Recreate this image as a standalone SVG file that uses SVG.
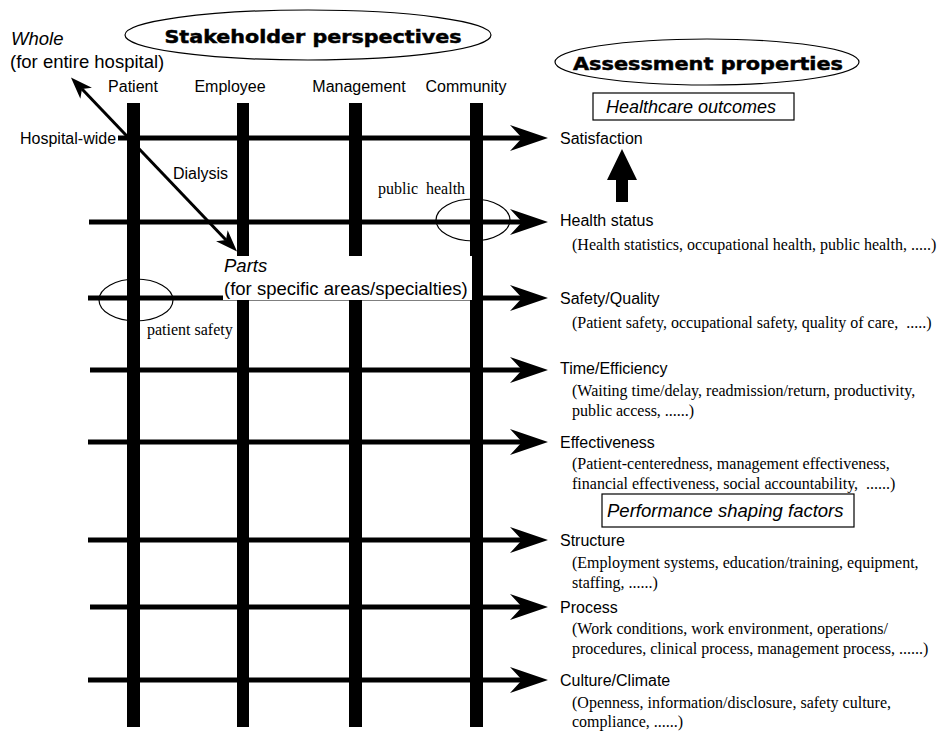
<svg xmlns="http://www.w3.org/2000/svg" width="946" height="731" viewBox="0 0 946 731">
<style>
.lab{font-family:"Liberation Sans",Arial,sans-serif;font-size:16px;fill:#000}
.it{font-family:"Liberation Sans",Arial,sans-serif;font-size:18.5px;font-style:italic;fill:#000}
.ser{font-family:"Liberation Serif","Times New Roman",serif;font-size:16px;fill:#000}
.ttl{font-family:"DejaVu Sans","Liberation Sans",sans-serif;font-size:18.5px;font-weight:bold;fill:#000;stroke:#000;stroke-width:0.5}
.bar{fill:#000}
.row{stroke:#000;stroke-width:5;fill:none}
.oval{fill:none;stroke:#000;stroke-width:1.2}
.box{fill:#fff;stroke:#000;stroke-width:1.2}
</style>
<defs>
<marker id="ah" markerUnits="userSpaceOnUse" markerWidth="38" markerHeight="26" viewBox="0 0 38 26" refX="12" refY="13" orient="auto">
<path d="M0,0 L38,13 L0,26 L12,13 Z" fill="#000"/>
</marker>
<marker id="sh" markerUnits="userSpaceOnUse" markerWidth="22" markerHeight="16" viewBox="0 0 22 16" refX="6" refY="8" orient="auto-start-reverse">
<path d="M0,0 L22,8 L0,16 L6,8 Z" fill="#000"/>
</marker>
</defs>
<rect width="946" height="731" fill="#fff"/>

<g id="title-stakeholder">
<ellipse class="oval" cx="308" cy="35" rx="183" ry="25"/>
<text class="ttl" x="313" y="43" text-anchor="middle" textLength="297" lengthAdjust="spacingAndGlyphs">Stakeholder perspectives</text>
</g>
<g id="title-assessment">
<ellipse class="oval" cx="707" cy="62" rx="152" ry="23"/>
<text class="ttl" x="708" y="70" text-anchor="middle" textLength="270" lengthAdjust="spacingAndGlyphs">Assessment properties</text>
</g>

<g id="whole-label">
<text class="it" x="11" y="45">Whole</text>
<text class="lab" style="font-size:18.5px" x="10" y="68">(for entire hospital)</text>
</g>

<g id="stakeholders">
<text class="lab" x="133" y="92" text-anchor="middle">Patient</text>
<text class="lab" x="230" y="92" text-anchor="middle">Employee</text>
<text class="lab" x="359" y="92" text-anchor="middle">Management</text>
<text class="lab" x="466" y="92" text-anchor="middle">Community</text>
</g>

<g id="bars">
<rect id="bar-patient" class="bar" x="127" y="103" width="13" height="624"/>
<rect id="bar-employee-a" class="bar" x="237" y="103" width="12" height="153"/>
<rect id="bar-employee-b" class="bar" x="237" y="300" width="12" height="427"/>
<rect id="bar-management-a" class="bar" x="349" y="103" width="13" height="153"/>
<rect id="bar-management-b" class="bar" x="349" y="300" width="13" height="427"/>
<rect id="bar-community" class="bar" x="470" y="103" width="13" height="624"/>
</g>

<g id="connectors">
<line class="row" x1="118" y1="138" x2="522" y2="138" marker-end="url(#ah)"/>
<line class="row" x1="89" y1="222" x2="522" y2="222" marker-end="url(#ah)"/>
<line class="row" x1="88" y1="298" x2="522" y2="298" marker-end="url(#ah)"/>
<line class="row" x1="90" y1="370" x2="522" y2="370" marker-end="url(#ah)"/>
<line class="row" x1="88" y1="442" x2="522" y2="442" marker-end="url(#ah)"/>
<line class="row" x1="88" y1="540" x2="522" y2="540" marker-end="url(#ah)"/>
<line class="row" x1="90" y1="607" x2="522" y2="607" marker-end="url(#ah)"/>
<line class="row" x1="88" y1="680" x2="522" y2="680" marker-end="url(#ah)"/>
<line x1="82" y1="89" x2="226" y2="240" stroke="#000" stroke-width="3" marker-start="url(#sh)" marker-end="url(#sh)"/>
<path id="up-arrow" d="M622,149 L637,180 L628,180 L628,202 L616,202 L616,180 L607,180 Z" fill="#000"/>
</g>

<g id="parts-label">
<rect x="223" y="256" width="249" height="44" fill="#fff"/>
<text class="it" x="224" y="272">Parts</text>
<text class="lab" style="font-size:18.5px" x="224" y="295">(for specific areas/specialties)</text>
</g>

<g id="side-labels">
<text class="lab" x="20" y="144">Hospital-wide</text>
<text class="lab" x="173" y="179">Dialysis</text>
<text class="ser" x="378" y="194" style="white-space:pre">public  health</text>
<text class="ser" x="147" y="335">patient safety</text>
<ellipse class="oval" cx="473" cy="220" rx="37" ry="21"/>
<ellipse class="oval" cx="136" cy="300" rx="37" ry="21"/>
</g>

<g id="healthcare-outcomes">
<rect class="box" x="593" y="93" width="201" height="27"/>
<text class="it" style="font-size:18px" x="606" y="113">Healthcare outcomes</text>
</g>
<g id="psf">
<rect class="box" x="602" y="494" width="252" height="33"/>
<text class="it" x="607" y="517">Performance shaping factors</text>
</g>

<g id="properties">
<text class="lab" x="560" y="144">Satisfaction</text>
<text class="lab" x="560" y="226">Health status</text>
<text class="ser" x="572" y="250">(Health statistics, occupational health, public health, .....)</text>
<text class="lab" x="560" y="304">Safety/Quality</text>
<text class="ser" x="572" y="328" style="white-space:pre">(Patient safety, occupational safety, quality of care,  .....)</text>
<text class="lab" x="560" y="374">Time/Efficiency</text>
<text class="ser" x="572" y="396">(Waiting time/delay, readmission/return, productivity,</text>
<text class="ser" x="572" y="416">public access, ......)</text>
<text class="lab" x="560" y="448">Effectiveness</text>
<text class="ser" x="572" y="469">(Patient-centeredness, management effectiveness,</text>
<text class="ser" x="572" y="489" style="white-space:pre">financial effectiveness, social accountability,  ......)</text>
<text class="lab" x="560" y="546">Structure</text>
<text class="ser" x="572" y="568">(Employment systems, education/training, equipment,</text>
<text class="ser" x="572" y="588">staffing, ......)</text>
<text class="lab" x="560" y="613">Process</text>
<text class="ser" x="572" y="634">(Work conditions, work environment, operations/</text>
<text class="ser" x="572" y="654">procedures, clinical process, management process, ......)</text>
<text class="lab" x="560" y="686">Culture/Climate</text>
<text class="ser" x="572" y="708">(Openness, information/disclosure, safety culture,</text>
<text class="ser" x="572" y="727">compliance, ......)</text>
</g>
</svg>
